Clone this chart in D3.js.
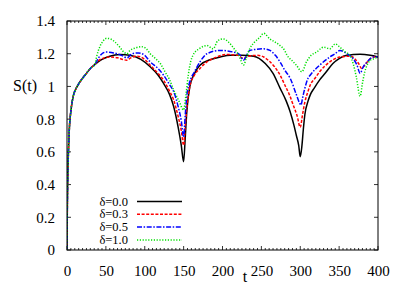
<!DOCTYPE html>
<html><head><meta charset="utf-8">
<script src="https://cdn.jsdelivr.net/npm/d3@7"></script>
<style>body{margin:0;background:#fff}svg{display:block}</style>
</head><body>
<script>
const xTicks = [0,50,100,150,200,250,300,350,400];
const yTicks = [0,0.2,0.4,0.6,0.8,1,1.2,1.4];
const yTickLabels = ["0","0.2","0.4","0.6","0.8","1","1.2","1.4"];
const legendLabels = ["δ=0.0","δ=0.3","δ=0.5","δ=1.0"];
const colors = ["#000000","#ff0000","#0000ff","#00e000"];

const common = [[0,0],[0.5,0.3],[1,0.45],[2,0.62],[3,0.74],[5,0.85],[8,0.94],[12,0.99],[17,1.03],[25,1.08],[30,1.11],[36,1.135]];

const black = common.concat([[45,1.165],[55,1.185],[68,1.195],[81,1.19],[95,1.165],[107,1.12],[117,1.07],[124,1.02],[132,0.95],[137,0.88],[143,0.75],[147,0.64],[150,0.54],[152,0.68],[154,0.84],[158,1.0],[164,1.08],[171,1.13],[185,1.165],[197,1.18],[210,1.19],[225,1.19],[240,1.185],[255,1.14],[265,1.08],[274,0.99],[282,0.91],[287,0.845],[292,0.76],[295,0.70],[298,0.64],[300,0.57],[302,0.63],[304,0.74],[306,0.83],[310,0.91],[313,0.95],[318,0.99],[325,1.04],[332,1.08],[342,1.14],[350,1.17],[360,1.19],[377,1.196],[390,1.19],[400,1.18]]);

const red = common.concat([[40,1.155],[45,1.17],[55,1.18],[65,1.175],[72,1.165],[77,1.16],[82,1.175],[90,1.185],[100,1.165],[107,1.13],[117,1.08],[124,1.04],[132,0.97],[137,0.92],[143,0.815],[147,0.73],[150,0.64],[152,0.75],[154,0.86],[158,1.0],[164,1.07],[171,1.11],[180,1.15],[188,1.17],[205,1.195],[220,1.19],[227,1.17],[233,1.185],[245,1.19],[253,1.18],[260,1.155],[267,1.12],[274,1.07],[280,1.01],[286,0.95],[291,0.886],[296,0.82],[300,0.75],[303,0.83],[306,0.906],[310,0.97],[313,1.01],[319,1.05],[325,1.09],[338,1.15],[351,1.18],[365,1.185],[370,1.17],[375,1.14],[379,1.11],[383,1.13],[388,1.16],[394,1.18],[400,1.18]]);

const blue = common.concat([[40,1.17],[45,1.2],[50,1.21],[60,1.205],[70,1.19],[77,1.175],[84,1.2],[92,1.205],[100,1.19],[107,1.15],[117,1.11],[124,1.07],[132,1.01],[137,0.97],[143,0.876],[147,0.79],[150,0.69],[152,0.82],[154,0.94],[158,1.03],[164,1.09],[171,1.15],[180,1.2],[197,1.22],[214,1.21],[222,1.195],[227,1.16],[231,1.19],[235,1.22],[253,1.23],[261,1.22],[268,1.19],[274,1.15],[280,1.10],[287,1.05],[295,0.95],[299,0.9],[301,0.886],[303,0.93],[306,0.99],[310,1.05],[313,1.07],[325,1.13],[338,1.18],[345,1.2],[351,1.22],[360,1.20],[368,1.17],[373,1.13],[377,1.08],[381,1.12],[386,1.15],[394,1.18],[400,1.18]]);

const green = common.concat([[38,1.18],[42,1.24],[46,1.275],[51,1.294],[56,1.29],[62,1.27],[68,1.24],[73,1.21],[77,1.20],[81,1.22],[88,1.235],[96,1.243],[102,1.23],[107,1.20],[114,1.17],[120,1.14],[126,1.09],[132,1.04],[137,0.98],[141,0.94],[145,0.90],[150,0.856],[153,0.95],[156,1.07],[159,1.15],[162,1.19],[170,1.23],[180,1.25],[188,1.23],[194,1.28],[201,1.29],[208,1.27],[215,1.23],[221,1.19],[227,1.13],[231,1.18],[235,1.23],[241,1.27],[248,1.30],[253,1.325],[261,1.29],[268,1.27],[274,1.25],[280,1.22],[283,1.19],[289,1.16],[295,1.13],[302,1.09],[308,1.15],[314,1.19],[321,1.21],[330,1.24],[338,1.23],[345,1.26],[351,1.24],[358,1.21],[364,1.19],[368,1.14],[372,1.06],[377,0.94],[380,1.02],[383,1.09],[386,1.13],[390,1.16],[395,1.17],[400,1.18]]);

const series = [black, red, blue, green];
const dashes = [null, "3,1.6", "5,1.6,1.5,1.6", "1.2,1.6"];
const FONT = "'Liberation Serif'";

const W = 409, H = 286;
const L = 67, R = 378, T = 21, B = 250;
const svg = d3.select("body").append("svg").attr("width", W).attr("height", H);
const x = d3.scaleLinear().domain([0,400]).range([L,R]);
const y = d3.scaleLinear().domain([0,1.4]).range([B,T]);

svg.append("clipPath").attr("id","c").append("rect").attr("x",L).attr("y",T).attr("width",R-L).attr("height",B-T);

const minor = d3.range(0,401,5).filter(v => v % 50 !== 0);
const tg = svg.append("g").attr("stroke","#000").attr("stroke-width",0.8);
minor.forEach(v => {
  tg.append("line").attr("x1",x(v)).attr("x2",x(v)).attr("y1",B).attr("y2",B-2);
  tg.append("line").attr("x1",x(v)).attr("x2",x(v)).attr("y1",T).attr("y2",T+2);
});
xTicks.forEach(v => {
  tg.append("line").attr("x1",x(v)).attr("x2",x(v)).attr("y1",B).attr("y2",B-4);
  tg.append("line").attr("x1",x(v)).attr("x2",x(v)).attr("y1",T).attr("y2",T+4);
});
yTicks.forEach(v => {
  tg.append("line").attr("x1",L).attr("x2",L+4).attr("y1",y(v)).attr("y2",y(v));
  tg.append("line").attr("x1",R).attr("x2",R-4).attr("y1",y(v)).attr("y2",y(v));
});

const xAxis = d3.axisBottom(x).tickValues(xTicks).tickSize(0).tickPadding(0).tickFormat(d3.format("d"));
const gx = svg.append("g").attr("transform",`translate(0,${B})`).call(xAxis);
gx.attr("font-family",FONT);
gx.select(".domain").remove();
gx.selectAll("text").attr("dy",null).attr("y",26).style("font-family",FONT).style("font-size","15px");

const yAxis = d3.axisLeft(y).tickValues(yTicks).tickSize(0).tickPadding(0).tickFormat((d,i)=>yTickLabels[i]);
const gy = svg.append("g").attr("transform",`translate(${L-12},0)`).call(yAxis);
gy.attr("font-family",FONT);
gy.select(".domain").remove();
gy.selectAll("text").attr("dy","0.33em").style("font-family",FONT).style("font-size","15px");

const line = d3.line().x(d=>x(d[0])).y(d=>y(d[1])).curve(d3.curveMonotoneX);
const cg = svg.append("g").attr("clip-path","url(#c)");
series.forEach((s,i)=>{
  const p = cg.append("path").attr("d",line(s)).attr("fill","none").attr("stroke",colors[i]).attr("stroke-width",1.5);
  if (dashes[i]) p.attr("stroke-dasharray",dashes[i]);
});

svg.append("rect").attr("x",L).attr("y",T).attr("width",R-L).attr("height",B-T).attr("fill","none").attr("stroke","#000").attr("stroke-width",1);

svg.append("text").attr("x",25).attr("y",y(1)+5).attr("text-anchor","middle").style("font-family",FONT).style("font-size","16px").text("S(t)");
svg.append("text").attr("x",245).attr("y",282).attr("text-anchor","middle").style("font-family",FONT).style("font-size","16px").text("t");

legendLabels.forEach((lab,i)=>{
  const cy = 201.5 + i*12.8;
  svg.append("text").attr("x",128).attr("y",cy+4).attr("text-anchor","end").style("font-family",FONT).style("font-size","12.5px").text(lab);
  const l = svg.append("line").attr("x1",137).attr("x2",182).attr("y1",cy).attr("y2",cy).attr("stroke",colors[i]).attr("stroke-width",1.5);
  if (dashes[i]) l.attr("stroke-dasharray",dashes[i]);
});
</script>
</body></html>
